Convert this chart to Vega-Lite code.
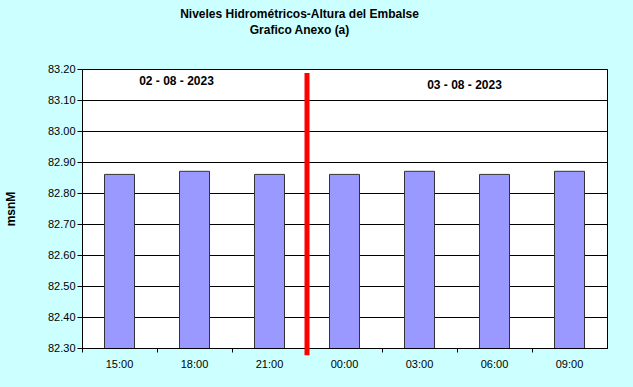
{
  "$schema": "https://vega.github.io/schema/vega-lite/v6.json",
  "width": 525,
  "height": 279,
  "autosize": {"type": "none"},
  "padding": {"left": 82, "top": 69, "right": 26, "bottom": 39},
  "background": "#ccffff",
  "config": {
    "font": "Liberation Sans",
    "view": {"fill": "white", "stroke": "black", "strokeWidth": 1},
    "axis": {"labelColor": "black", "labelFont": "Liberation Sans", "labelFontSize": 11, "titleColor": "black", "domainColor": "black", "tickColor": "black"}
  },
  "title": {
    "text": ["Niveles Hidrométricos-Altura del Embalse", "Grafico Anexo (a)"],
    "font": "Liberation Sans",
    "fontSize": 12,
    "fontWeight": "bold",
    "color": "black",
    "anchor": "middle",
    "dx": -45,
    "offset": 26,
    "lineHeight": 16
  },
  "datasets": {
    "levels": [
      {"hora": "15:00", "nivel": 82.86},
      {"hora": "18:00", "nivel": 82.87},
      {"hora": "21:00", "nivel": 82.86},
      {"hora": "00:00", "nivel": 82.86},
      {"hora": "03:00", "nivel": 82.87},
      {"hora": "06:00", "nivel": 82.86},
      {"hora": "09:00", "nivel": 82.87}
    ],
    "date1": [
      {"hora": "18:00", "nivel": 83.16, "label": "02 - 08 - 2023"}
    ],
    "date2": [
      {"hora": "06:00", "nivel": 83.15, "label": "03 - 08 - 2023"}
    ],
    "divider": [
      {"hora": "00:00", "top": 83.187, "bottom": 82.277}
    ]
  },
  "encoding": {
    "x": {
      "field": "hora", "type": "ordinal", "sort": null,
      "scale": {"paddingInner": 0, "paddingOuter": 0, "domain": ["15:00", "18:00", "21:00", "00:00", "03:00", "06:00", "09:00"]},
      "axis": {"title": null, "labelAngle": 0, "bandPosition": 0, "tickSize": 4, "labelPadding": 6, "domain": true}
    },
    "y": {
      "field": "nivel", "type": "quantitative",
      "scale": {"domain": [82.3, 83.2], "zero": false, "nice": false},
      "axis": {
        "title": "msnM", "titleFontSize": 12, "titleFontWeight": "bold", "titleFont": "Liberation Sans",
        "format": ".2f", "values": [82.3, 82.4, 82.5, 82.6, 82.7, 82.8, 82.9, 83.0, 83.1, 83.2],
        "labelOverlap": false,
        "grid": true, "gridColor": "black", "gridWidth": 1, "gridOpacity": 1,
        "tickSize": 5, "labelPadding": 2, "titlePadding": 30
      }
    }
  },
  "layer": [
    {
      "data": {"name": "levels"},
      "mark": {"type": "bar", "fill": "#9999ff", "stroke": "#333333", "strokeWidth": 1, "width": {"band": 0.4}, "clip": true}
    },
    {
      "data": {"name": "date1"},
      "mark": {"type": "text", "fontSize": 12, "fontWeight": "bold", "color": "black", "font": "Liberation Sans", "dx": -18},
      "encoding": {"text": {"field": "label"}}
    },
    {
      "data": {"name": "date2"},
      "mark": {"type": "text", "fontSize": 12, "fontWeight": "bold", "color": "black", "font": "Liberation Sans", "dx": -30},
      "encoding": {"text": {"field": "label"}}
    },
    {
      "data": {"name": "divider"},
      "mark": {"type": "rule", "color": "#ff0000", "strokeWidth": 5, "clip": false},
      "encoding": {
        "x": {"field": "hora", "type": "ordinal", "sort": null, "bandPosition": 0},
        "y": {"field": "top", "type": "quantitative"},
        "y2": {"field": "bottom"}
      }
    }
  ]
}
